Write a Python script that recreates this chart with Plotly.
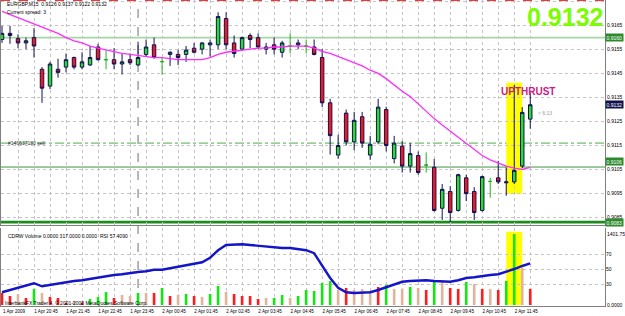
import plotly.graph_objects as go
import pandas as pd

# ---------------- data ----------------
times = pd.date_range("2009-04-01 19:45", periods=67, freq="15min")

opens = [0.91592, 0.91618, 0.91596, 0.91578, 0.91600, 0.91468, 0.91398, 0.91468, 0.91477, 0.91517,
         0.91477, 0.91486, 0.91561, 0.91508, 0.91508, 0.91490, 0.91508, 0.91486, 0.91530, 0.91570,
         0.91500, 0.91530, 0.91530, 0.91530, 0.91556, 0.91552, 0.91570, 0.91570, 0.91680, 0.91578,
         0.91552, 0.91609, 0.91600, 0.91552, 0.91570, 0.91539, 0.91565, 0.91570, 0.91565, 0.91561,
         0.91517, 0.91328, 0.91110, 0.91285, 0.91165, 0.91270, 0.91110, 0.91165, 0.91300, 0.91095,
         0.91147, 0.91064, 0.91108, 0.91068, 0.91059, 0.90888, 0.90958, 0.90879, 0.91015, 0.90958,
         0.90879, 0.91000, 0.91015, 0.90994, 0.90998, 0.91064, 0.91260]
highs = [0.91649, 0.91649, 0.91614, 0.91600, 0.91640, 0.91477, 0.91499, 0.91512, 0.91534, 0.91521,
         0.91539, 0.91565, 0.91574, 0.91548, 0.91556, 0.91534, 0.91534, 0.91583, 0.91592, 0.91600,
         0.91517, 0.91543, 0.91548, 0.91565, 0.91578, 0.91580, 0.91592, 0.91706, 0.91706, 0.91609,
         0.91604, 0.91618, 0.91618, 0.91578, 0.91600, 0.91587, 0.91618, 0.91592, 0.91592, 0.91592,
         0.91552, 0.91345, 0.91195, 0.91300, 0.91290, 0.91290, 0.91190, 0.91345, 0.91312, 0.91190,
         0.91169, 0.91160, 0.91125, 0.91121, 0.91094, 0.90989, 0.90980, 0.91032, 0.91028, 0.90976,
         0.91024, 0.91015, 0.91086, 0.91059, 0.91402, 0.91310, 0.91370]
lows = [0.91578, 0.91574, 0.91556, 0.91552, 0.91517, 0.91328, 0.91385, 0.91433, 0.91455, 0.91468,
        0.91468, 0.91482, 0.91504, 0.91468, 0.91468, 0.91446, 0.91486, 0.91482, 0.91521, 0.91512,
        0.91446, 0.91482, 0.91486, 0.91499, 0.91534, 0.91530, 0.91521, 0.91552, 0.91552, 0.91517,
        0.91548, 0.91556, 0.91552, 0.91530, 0.91530, 0.91517, 0.91534, 0.91552, 0.91534, 0.91526,
        0.91310, 0.91112, 0.91095, 0.91150, 0.91130, 0.91140, 0.91090, 0.91155, 0.91125, 0.91075,
        0.91037, 0.91037, 0.91028, 0.91037, 0.90874, 0.90839, 0.90830, 0.90874, 0.90918, 0.90839,
        0.90874, 0.90932, 0.90989, 0.90940, 0.90989, 0.91055, 0.91220]
closes = [0.91618, 0.91609, 0.91578, 0.91587, 0.91565, 0.91389, 0.91490, 0.91455, 0.91508, 0.91477,
          0.91499, 0.91517, 0.91508, 0.91508, 0.91490, 0.91499, 0.91495, 0.91517, 0.91561, 0.91517,
          0.91500, 0.91539, 0.91517, 0.91548, 0.91539, 0.91578, 0.91578, 0.91688, 0.91570, 0.91534,
          0.91600, 0.91592, 0.91561, 0.91561, 0.91552, 0.91578, 0.91565, 0.91578, 0.91565, 0.91530,
          0.91328, 0.91191, 0.91150, 0.91165, 0.91255, 0.91160, 0.91155, 0.91310, 0.91150, 0.91160,
          0.91064, 0.91116, 0.91037, 0.91068, 0.90879, 0.90967, 0.90870, 0.91028, 0.90949, 0.90870,
          0.91020, 0.91000, 0.90998, 0.90998, 0.91046, 0.91288, 0.91320]
ma = [0.91710, 0.91697, 0.91684, 0.91671, 0.91658, 0.91644, 0.91631, 0.91618, 0.91600, 0.91587,
      0.91578, 0.91565, 0.91556, 0.91548, 0.91543, 0.91534, 0.91530, 0.91526, 0.91521, 0.91517,
      0.91517, 0.91512, 0.91508, 0.91508, 0.91508, 0.91508, 0.91517, 0.91530, 0.91539, 0.91543,
      0.91548, 0.91552, 0.91556, 0.91556, 0.91561, 0.91561, 0.91565, 0.91565, 0.91565, 0.91556,
      0.91543, 0.91534, 0.91521, 0.91508, 0.91495, 0.91482, 0.91464, 0.91451, 0.91429, 0.91402,
      0.91376, 0.91354, 0.91323, 0.91292, 0.91262, 0.91235, 0.91209, 0.91182, 0.91156, 0.91130,
      0.91108, 0.91090, 0.91077, 0.91064, 0.91055, 0.91050, 0.91059]
volume = [237, 178, 217, 138, 316, 237, 158, 138, 40, 79,
          40, 118, 158, 257, 138, 197, 178, 237, 237, 237,
          336, 178, 197, 217, 178, 158, 217, 375, 257, 217,
          178, 178, 118, 138, 138, 197, 138, 178, 296, 276,
          434, 474, 296, 336, 296, 316, 276, 355, 395, 316,
          316, 355, 336, 296, 493, 454, 336, 316, 454, 415,
          316, 316, 296, 474, 1401.75, 730, 317]
vol_class = ["d", "d", "n", "d", "u", "n", "d", "d", "d", "n",
             "d", "u", "u", "u", "d", "n", "n", "u", "n", "d",
             "u", "d", "n", "u", "d", "n", "u", "u", "n", "d",
             "d", "d", "d", "n", "u", "u", "n", "u", "u", "u",
             "u", "u", "n", "d", "n", "n", "n", "d", "u", "n",
             "n", "u", "n", "d", "u", "n", "d", "d", "u", "n",
             "d", "n", "d", "u", "u", "n", "d"]
rsi = [19, 22, 25, 27, 31, 27, 29, 30, 33, 34,
       35, 37, 39, 41, 42, 43, 45, 46, 47, 49,
       49, 51, 53, 54, 57, 59, 65, 75, 82, 83,
       83, 82, 81, 79, 79, 78, 78, 77, 75, 71,
       55, 38, 25, 19, 18, 18, 19, 22, 26, 30,
       33, 34, 35, 35, 34, 33, 33, 35, 38, 39,
       41, 42, 43, 46, 50, 54, 57.409]
tick_labels = ["1 Apr 2009", "1 Apr 20:45", "1 Apr 21:45", "1 Apr 22:45", "1 Apr 23:45",
               "2 Apr 00:45", "2 Apr 01:45", "2 Apr 02:45", "2 Apr 03:45", "2 Apr 04:45",
               "2 Apr 05:45", "2 Apr 06:45", "2 Apr 07:45", "2 Apr 08:45", "2 Apr 09:45",
               "2 Apr 10:45", "2 Apr 11:45"]
price_ticks = [0.9085, 0.9095, 0.9105, 0.9115, 0.9125, 0.9135, 0.9145, 0.9155, 0.9165, 0.9175]
levels = [0.9160, 0.9116, 0.9106, 0.9083]
level_tags = [0.9160, 0.9106, 0.9083]
last_price = 0.9132
upthrust_idx = 64
top_line = 0.91755

# ---------------- layout helpers ----------------
PW, PH = 606.0, 306.0


def px(x):
    return x / PW


def py(y):
    return 1 - y / PH


bar = pd.Timedelta(minutes=15)
x_range = [times[0] - 0.1245 * bar, times[0] + 75.34 * bar]

FONT = "Liberation Sans, Arial, sans-serif"
GREEN_BODY = "#22e022"
RED_BODY = "#f01818"
WICK = "#101058"
GRID = "#c4c4c4"

fig = go.Figure()

doji = [i for i in range(len(opens)) if opens[i] == closes[i]]
normal = [i for i in range(len(opens)) if opens[i] != closes[i]]

fig.add_trace(go.Candlestick(
    x=[times[i] for i in normal], open=[opens[i] for i in normal], high=[highs[i] for i in normal],
    low=[lows[i] for i in normal], close=[closes[i] for i in normal],
    increasing=dict(fillcolor=GREEN_BODY, line=dict(color=WICK, width=1)),
    decreasing=dict(fillcolor=RED_BODY, line=dict(color=WICK, width=1)),
    xaxis="x2", yaxis="y", showlegend=False, hoverinfo="skip"))
fig.add_trace(go.Candlestick(
    x=[times[i] for i in doji], open=[opens[i] for i in doji], high=[highs[i] for i in doji],
    low=[lows[i] for i in doji], close=[closes[i] for i in doji],
    increasing=dict(fillcolor="#22c022", line=dict(color="#22b022", width=1)),
    decreasing=dict(fillcolor="#22c022", line=dict(color="#22b022", width=1)),
    xaxis="x2", yaxis="y", showlegend=False, hoverinfo="skip"))
fig.add_trace(go.Scatter(x=times, y=ma, mode="lines", line=dict(color="#ff2cff", width=1.3),
                         xaxis="x2", yaxis="y", showlegend=False, hoverinfo="skip"))

vcol = {"u": "#14e614", "d": "#ff1c1c", "n": "#e2b49e"}
fig.add_trace(go.Bar(x=times, y=volume, marker=dict(color=[vcol[c] for c in vol_class], line=dict(width=0)),
                     width=0.33 * bar.total_seconds() * 1000, xaxis="x", yaxis="y2",
                     showlegend=False, hoverinfo="skip"))
fig.add_trace(go.Scatter(x=times, y=rsi, mode="lines", line=dict(color="#1414c8", width=2.4),
                         xaxis="x", yaxis="y3", showlegend=False, hoverinfo="skip"))

shapes = []
# yellow highlight of the upthrust bar
shapes.append(dict(type="rect", xref="x2", yref="y", layer="below",
                   x0=times[upthrust_idx - 1], x1=times[upthrust_idx + 1],
                   y0=lows[upthrust_idx] - 0.0004, y1=highs[upthrust_idx] + 0.0001,
                   fillcolor="#ffff00", line=dict(width=0)))
shapes.append(dict(type="rect", xref="x", yref="y2", layer="below",
                   x0=times[upthrust_idx - 1], x1=times[upthrust_idx + 1],
                   y0=0, y1=max(volume) * 1.03, fillcolor="#ffff00", line=dict(width=0)))
# horizontal levels
lvl_style = [dict(color="#a6d6a6", width=1.6), dict(color="#4caf4c", width=1, dash="dashdot"),
             dict(color="#3c963c", width=1), dict(color="#1c8c1c", width=2.6)]
for lv, st in zip(levels, lvl_style):
    shapes.append(dict(type="line", xref="paper", yref="y", x0=0, x1=1, y0=lv, y1=lv,
                       line=st, layer="below"))
shapes.append(dict(type="line", xref="paper", yref="y", x0=0, x1=1, y0=top_line, y1=top_line,
                   line=dict(color="#ff3030", width=1, dash="dash")))
# period separator (day change)
sep = [t for t in times if t.hour == 0 and t.minute == 0][0]
shapes.append(dict(type="line", xref="x", yref="paper", x0=sep, x1=sep, y0=0, y1=1,
                   line=dict(color="#707070", width=1, dash="dash"), layer="below"))

ann = []


def txt(x, y, s, size=5, color="#000000", anchor="left", bold=False, yanchor="middle"):
    ann.append(dict(xref="paper", yref="paper", x=px(x), y=py(y), text=("<b>%s</b>" % s) if bold else s,
                    showarrow=False, xanchor=anchor, yanchor=yanchor,
                    font=dict(family=FONT, size=size, color=color)))


txt(4, 4, "EURGBP,M15  0.9126 0.9137 0.9122 0.9132")
txt(4, 12, "Current spread: 3")
txt(5, 143, "#146637183 sell", color="#303030")
txt(5, 236, "CDRW Volume 0.0000 317.0000 0.0000  RSI 57.4090")
txt(2, 303, "InterbankFX Trader 4, © 2001-2008 MetaQuotes Software Corp.")
txt(537, 113, "&lt; 6:13", color="#9a9a9a")
txt(606, 17, "%.4f" % last_price, size=25, color="#7cfc00", anchor="right", bold=True)
txt(529, 91, "UPTHRUST", size=10, color="#cc1a88", anchor="center", bold=True)

for lv in level_tags:
    close_tick = min(abs(lv - t) for t in price_ticks) < 0.00015
    ann.append(dict(xref="paper", yref="y", x=1.0, y=lv, text="%.4f" % lv, showarrow=False,
                    xanchor="left", yanchor="bottom" if close_tick else "middle",
                    yshift=1 if close_tick else 0, bgcolor="#2c8a2c", borderpad=0.5,
                    font=dict(family=FONT, size=5, color="#ffffff")))
ann.append(dict(xref="paper", yref="y", x=1.0, y=last_price, text="%.4f" % last_price, showarrow=False,
                xanchor="left", yanchor="middle", bgcolor="#10104a", borderpad=0.5,
                font=dict(family=FONT, size=5, color="#ffffff")))

tickvals = list(times[::2])
ticktext = [tick_labels[i // 2] if i % 2 == 0 else "" for i in range(len(tickvals))]

axfont = dict(family=FONT, size=5, color="#000000")
fig.update_layout(
    width=625, height=316, margin=dict(l=0, r=19, t=0, b=10),
    paper_bgcolor="#ffffff", plot_bgcolor="#ffffff", boxgap=0.38,
    showlegend=False, shapes=shapes, annotations=ann,
    xaxis=dict(domain=[0, 1], anchor="y2", range=x_range, type="date",
               tickmode="array", tickvals=tickvals, ticktext=ticktext, ticks="",
               tickfont=dict(family=FONT, size=4.6, color="#000000"), ticklabelshift=12,
               showgrid=True, gridcolor=GRID, griddash="dot", gridwidth=1,
               showline=True, linecolor="#808080", linewidth=1, zeroline=False,
               rangeslider=dict(visible=False)),
    xaxis2=dict(domain=[0, 1], anchor="y", matches="x", type="date",
                tickmode="array", tickvals=tickvals, showticklabels=False, ticks="",
                showgrid=True, gridcolor=GRID, griddash="dot", gridwidth=1,
                showline=True, linecolor="#808080", linewidth=1, zeroline=False,
                rangeslider=dict(visible=False)),
    yaxis=dict(domain=[1 - 225 / PH, 1], anchor="x2", side="right",
               range=[0.908181, 0.917571], tickmode="array", tickvals=price_ticks,
               ticktext=["%.4f" % v for v in price_ticks], tickfont=axfont, ticks="",
               showgrid=True, gridcolor=GRID, griddash="dot", zeroline=False,
               showline=True, linecolor="#808080", linewidth=1, mirror=True),
    yaxis2=dict(domain=[0, 1 - 228 / PH], anchor="x", side="right",
                range=[-19.7, 1520], tickmode="array", tickvals=[0, 1401.75],
                ticktext=["0.0000", "1401.75"], tickfont=axfont, ticks="",
                showgrid=False, zeroline=False,
                showline=True, linecolor="#808080", linewidth=1, mirror=True),
    yaxis3=dict(overlaying="y2", anchor="x", side="right", range=[0.67, 104.67],
                tickmode="array", tickvals=[30, 50, 70], tickfont=axfont, ticks="",
                showgrid=True, gridcolor=GRID, griddash="dot", zeroline=False, showline=False),
)

fig.write_html("out.html")
